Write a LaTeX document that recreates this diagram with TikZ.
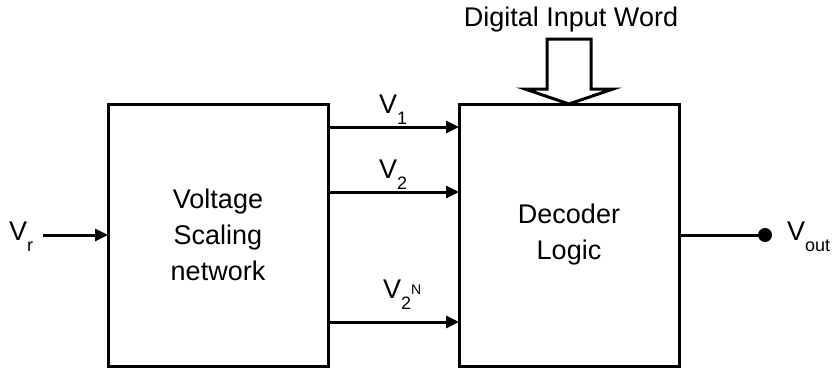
\documentclass[tikz,border=0pt]{standalone}
\usepackage{fontspec}
\setmainfont{Liberation Sans}
\usetikzlibrary{arrows.meta}
\newcommand{\lsub}[1]{\raisebox{-11pt}{\fontsize{18}{18}\selectfont #1}}
\begin{document}
\begin{tikzpicture}[x=1pt,y=-1pt,
  every node/.style={font=\fontsize{27}{36}\selectfont},
  blk/.style={draw,line width=3pt,inner sep=0pt,outer sep=0pt,minimum width=220pt,minimum height=262pt,align=center},
  sig/.style={line width=3pt,-{Triangle[length=13pt,width=12pt]}},
  wire/.style={line width=3pt},
  lbl/.style={anchor=base west,inner sep=0pt}]
\useasboundingbox (0,0) rectangle (832,372);
\node[blk] (vsn) at (218,235) {Voltage\\Scaling\\network};
\node[blk] (dec) at (569,235) {Decoder\\Logic};
% input word arrow
\draw[line width=3pt,line join=miter] (547,39) -- (591,39) -- (591,89) -- (613,89) -- (dec.north) -- (525,89) -- (547,89) -- cycle;
\node[anchor=base,inner sep=0pt] (diw) at (571,26) {Digital Input Word};
% Vr
\node[lbl] (vr) at (9,240) {V\lsub{r}};
\coordinate (vrs) at (43,235);
\draw[sig] (vrs) -- (vsn.west);
% V lines
\draw[sig] (vsn.east |- 0,127) -- (dec.west |- 0,127);
\draw[sig] (vsn.east |- 0,192) -- (dec.west |- 0,192);
\draw[sig] (vsn.east |- 0,322) -- (dec.west |- 0,322);
\node[lbl] (v1) at (379,113) {V\lsub{1}};
\node[lbl] (v2) at (379,178) {V\lsub{2}};
\node[lbl] (v2n) at (383,298) {V\lsub{2\raisebox{15pt}{\fontsize{14}{14}\selectfont N}}};
% output
\node[circle,fill,inner sep=0pt,minimum size=14pt] (dot) at (765,235) {};
\draw[wire] (dec.east) -- (dot.center);
\node[lbl] (vout) at (787,240) {V\lsub{out}};
\end{tikzpicture}
\end{document}
